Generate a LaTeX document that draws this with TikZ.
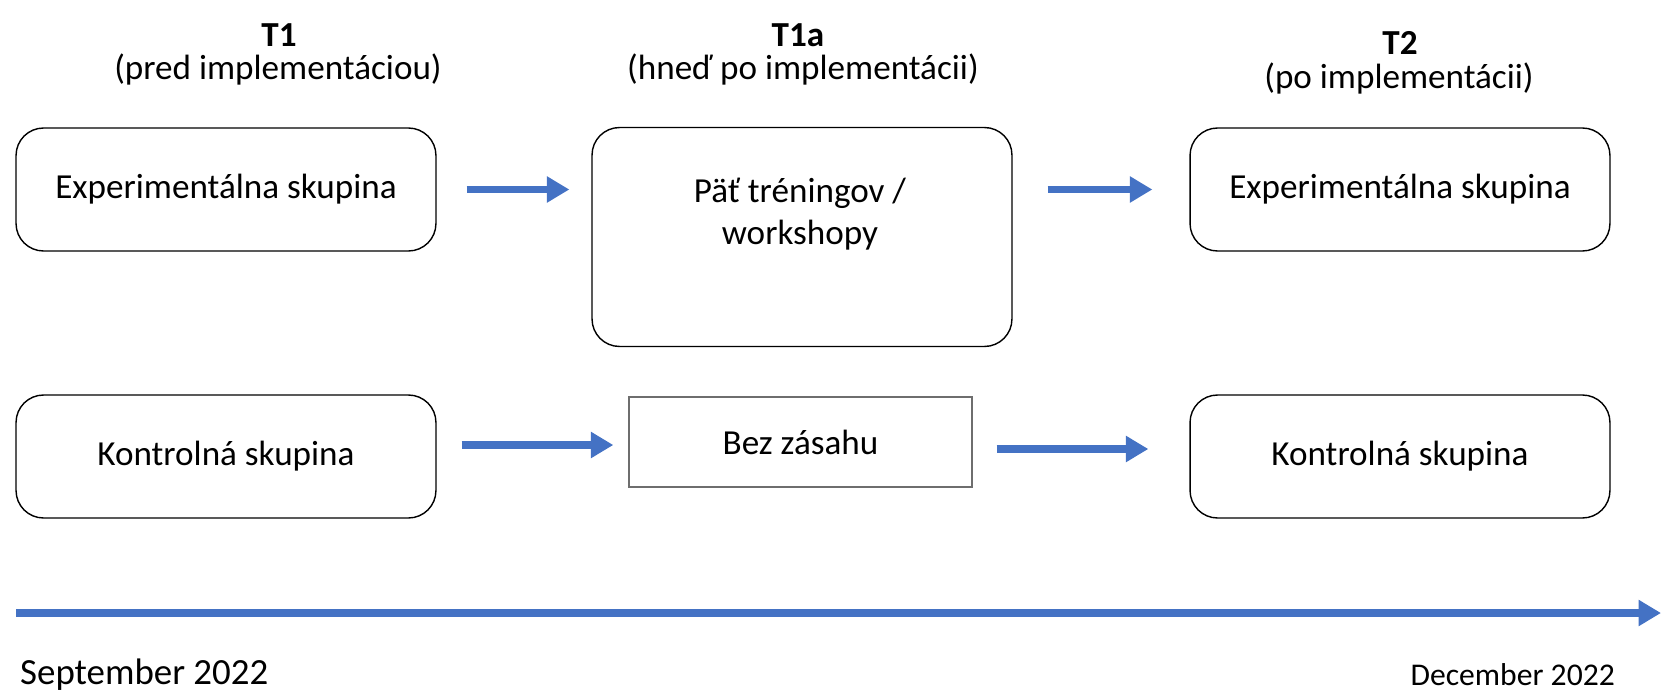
\documentclass[tikz,border=0pt]{standalone}
\usepackage{fontspec}
\setmainfont{Carlito}
\usetikzlibrary{arrows.meta}
\definecolor{arrowblue}{RGB}{68,114,196}
\definecolor{boxgray}{RGB}{110,110,110}

\begin{document}
\begin{tikzpicture}[x=0.02cm,y=-0.02cm,
    every node/.style={font=\fontsize{20}{24}\selectfont},
    title/.style={font=\fontsize{20}{24}\selectfont\bfseries,anchor=base,inner sep=0pt},
    subtitle/.style={font=\fontsize{20}{24}\selectfont,anchor=base,inner sep=0pt},
    groupbox/.style={draw,rounded corners=0.55cm,line width=0.8pt,minimum width=8.4cm,minimum height=2.46cm},
    plainbox/.style={draw=boxgray,line width=0.8pt,minimum width=6.86cm,minimum height=1.8cm},
    flow/.style={arrowblue,line width=4.5pt,-{Triangle[length=0.45cm,width=0.5cm]}}]
	\useasboundingbox (0,0) rectangle (1661,693);
	%time points
		\node[title] (t1) at (279,47) {T1};
		\node[subtitle] (t1sub) at (278,79) {(pred implementáciou)};
		\node[title] (t1a) at (798,47) {T1a};
		\node[subtitle] (t1asub) at (803,79) {(hneď po implementácii)};
		\node[title] (t2) at (1400,54) {T2};
		\node[subtitle] (t2sub) at (1399,88) {(po implementácii)};
	%experimental group
		\node[groupbox] (exp1) at (226,189.5) {Experimentálna skupina};
		\node[groupbox,minimum height=4.38cm] (pat) at (802,237) {};
		\node[align=center] (pattext) at (800,214) {Päť tréningov /\\workshopy};
		\node[groupbox] (exp2) at (1400,189.5) {Experimentálna skupina};
	%control group
		\node[groupbox] (kon1) at (226,456.5) {Kontrolná skupina};
		\node[plainbox] (bez) at (800.5,442) {Bez zásahu};
		\node[groupbox] (kon2) at (1400,456.5) {Kontrolná skupina};
	%arrows
		\draw[flow] ([xshift=0.6cm]exp1.east) -- ([xshift=-0.44cm]pat.west |- exp1.east);
		\draw[flow] ([xshift=0.7cm]pat.east |- exp2.west) -- ([xshift=-0.74cm]exp2.west);
		\draw[flow] ([shift={(25,-11.5)}]kon1.east) -- ([shift={(-15,3)}]bez.west);
		\draw[flow] ([shift={(24,7)}]bez.east) -- ([shift={(-41,-7.5)}]kon2.west);
	%timeline
		\coordinate (ts) at (16,613);
		\coordinate (te) at (1661,613);
		\draw[flow] (ts) -- (te);
		\node[anchor=west,font=\fontsize{21}{25}\selectfont] (sep) at (14,675) {September 2022};
		\node[anchor=east,font=\fontsize{18}{22}\selectfont] (dec) at (1621,675) {December 2022};
\end{tikzpicture}
\end{document}
